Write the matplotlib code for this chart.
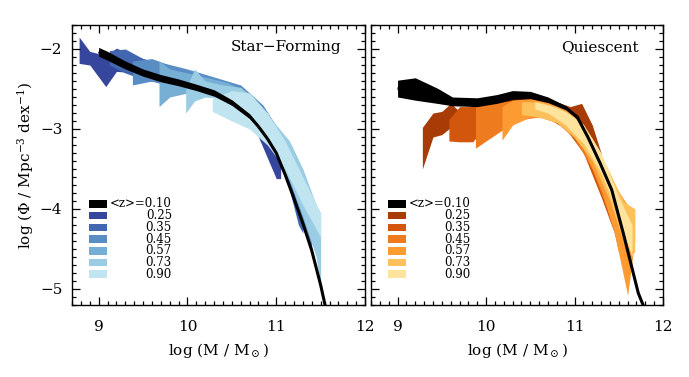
"""Stellar mass functions of star-forming and quiescent galaxies."""

import matplotlib

matplotlib.use("Agg")

import matplotlib.pyplot as plt
from matplotlib.patches import Rectangle
from matplotlib.ticker import MultipleLocator

plt.rcParams["font.family"] = ["DejaVu Serif"]
plt.rcParams["mathtext.fontset"] = "dejavuserif"

redshifts = ["0.10", "0.25", "0.35", "0.45", "0.57", "0.73", "0.90"]
sf_colors = ["#000000", "#35469c", "#4266b0", "#5b8dc5", "#77aed4", "#9acde3", "#c0e4f0"]
q_colors = ["#000000", "#a83c06", "#d2560b", "#ee7b1d", "#fd9b33", "#fdc15c", "#fde39c"]

# star-forming: local (z=0.10) band
sf_x0 = [9.0, 9.1, 9.3, 9.5, 9.7, 9.9, 10.1, 10.3, 10.5, 10.7, 10.8, 10.9, 11.0, 11.1, 11.2, 11.3, 11.4, 11.5, 11.56]
sf_hi0 = [-1.98, -2.03, -2.15, -2.25, -2.32, -2.375, -2.44, -2.51, -2.635, -2.81, -2.95, -3.10, -3.28, -3.55, -3.85, -4.16, -4.50, -4.93, -5.23]
sf_lo0 = [-2.09, -2.14, -2.25, -2.34, -2.41, -2.46, -2.52, -2.59, -2.705, -2.87, -2.99, -3.14, -3.32, -3.59, -3.89, -4.20, -4.54, -4.97, -5.27]

# star-forming: higher-z bands (x, upper, lower)
sf_x = [
    [8.78, 8.9, 9.08, 9.2, 9.45, 9.7, 10.0, 10.3, 10.55, 10.8, 11.0, 11.05],
    [9.12, 9.3, 9.5, 9.8, 10.1, 10.4, 10.7, 10.9, 11.1, 11.25, 11.3],
    [9.38, 9.6, 9.75, 10.0, 10.3, 10.6, 10.85, 11.05, 11.2, 11.3, 11.4],
    [9.68, 9.8, 10.0, 10.2, 10.45, 10.7, 10.9, 11.1, 11.3, 11.45],
    [9.98, 10.08, 10.2, 10.4, 10.6, 10.8, 11.0, 11.15, 11.3, 11.45, 11.5],
    [10.28, 10.5, 10.7, 10.9, 11.1, 11.3, 11.5],
]
sf_hi = [
    [-1.85, -2.03, -2.08, -1.99, -2.1, -2.2, -2.3, -2.38, -2.52, -2.85, -3.25, -3.35],
    [-2.02, -2.0, -2.12, -2.2, -2.3, -2.4, -2.55, -2.8, -3.3, -3.8, -4.0],
    [-2.15, -2.12, -2.18, -2.25, -2.35, -2.45, -2.7, -3.05, -3.5, -3.9, -4.1],
    [-2.15, -2.25, -2.3, -2.35, -2.42, -2.55, -2.8, -3.15, -3.6, -4.0],
    [-2.5, -2.25, -2.4, -2.45, -2.48, -2.68, -2.95, -3.15, -3.5, -3.95, -4.05],
    [-2.62, -2.52, -2.55, -2.8, -3.15, -3.6, -4.05],
]
sf_lo = [
    [-2.18, -2.2, -2.47, -2.28, -2.3, -2.35, -2.45, -2.55, -2.72, -3.1, -3.62, -3.62],
    [-2.2, -2.3, -2.38, -2.45, -2.5, -2.58, -2.75, -3.05, -3.55, -4.2, -4.3],
    [-2.45, -2.4, -2.45, -2.5, -2.55, -2.68, -2.95, -3.4, -3.8, -4.25, -4.5],
    [-2.72, -2.6, -2.55, -2.55, -2.62, -2.75, -3.05, -3.45, -3.95, -4.4],
    [-2.8, -2.65, -2.6, -2.62, -2.75, -2.95, -3.3, -3.65, -4.1, -4.6, -5.0],
    [-2.78, -2.9, -3.0, -3.2, -3.5, -3.95, -4.35],
]

# quiescent: local (z=0.10) band
q_x0 = [9.0, 9.2, 9.45, 9.62, 9.9, 10.12, 10.3, 10.5, 10.7, 10.9, 11.03, 11.15, 11.29, 11.42, 11.55, 11.72, 11.8]
q_hi0 = [-2.39, -2.36, -2.49, -2.6, -2.61, -2.57, -2.52, -2.53, -2.60, -2.71, -2.83, -3.08, -3.41, -3.74, -4.28, -5.03, -5.25]
q_lo0 = [-2.60, -2.64, -2.68, -2.71, -2.72, -2.68, -2.63, -2.62, -2.67, -2.76, -2.87, -3.12, -3.45, -3.78, -4.32, -5.07, -5.29]

# quiescent: higher-z bands (x, upper, lower)
q_x = [
    [9.28, 9.4, 9.5, 9.6, 9.7, 9.9, 10.2, 10.5, 10.8, 10.95, 11.08, 11.2, 11.3],
    [9.58, 9.7, 9.85, 10.0, 10.3, 10.6, 10.9, 11.1, 11.3, 11.45, 11.5],
    [9.88, 10.0, 10.2, 10.4, 10.6, 10.8, 11.0, 11.2, 11.4, 11.5, 11.55],
    [10.18, 10.3, 10.5, 10.7, 10.9, 11.1, 11.3, 11.45, 11.6, 11.68],
    [10.4, 10.6, 10.8, 11.0, 11.2, 11.4, 11.55, 11.68],
    [10.55, 10.7, 10.9, 11.1, 11.3, 11.5, 11.65],
]
q_hi = [
    [-2.98, -2.8, -2.78, -2.68, -2.78, -2.68, -2.62, -2.6, -2.66, -2.72, -2.68, -2.95, -3.3],
    [-2.88, -2.72, -2.72, -2.7, -2.65, -2.62, -2.74, -2.97, -3.45, -3.8, -3.95],
    [-2.72, -2.68, -2.66, -2.63, -2.65, -2.72, -2.92, -3.25, -3.8, -4.1, -4.3],
    [-2.72, -2.64, -2.62, -2.66, -2.74, -2.97, -3.35, -3.7, -3.95, -4.0],
    [-2.66, -2.66, -2.72, -2.86, -3.12, -3.55, -3.9, -4.0],
    [-2.66, -2.7, -2.78, -2.94, -3.3, -3.85, -4.2],
]
q_lo = [
    [-3.5, -3.1, -3.07, -2.98, -2.95, -2.85, -2.8, -2.8, -2.85, -3.0, -3.1, -3.25, -3.5],
    [-3.15, -3.16, -3.16, -2.95, -2.85, -2.8, -3.0, -3.3, -3.85, -4.3, -4.55],
    [-3.24, -3.15, -3.0, -2.88, -2.85, -2.92, -3.12, -3.5, -4.1, -4.45, -4.6],
    [-3.14, -2.95, -2.85, -2.85, -2.98, -3.25, -3.75, -4.3, -5.08, -4.4],
    [-2.82, -2.85, -2.92, -3.1, -3.4, -3.9, -4.4, -4.55],
    [-2.75, -2.8, -2.95, -3.18, -3.55, -4.1, -4.6],
]


def draw_panel(ax, x0, hi0, lo0, xs, his, los, colors, title):
    for x, hi, lo, c in zip(xs, his, los, colors[1:]):
        ax.fill_between(x, lo, hi, color=c, linewidth=0)
    ax.fill_between(x0, lo0, hi0, color="black", linewidth=0)
    mid = [(a + b) / 2 for a, b in zip(hi0, lo0)]
    ax.plot(x0, mid, color="black", lw=2.2, solid_capstyle="butt")

    ax.set_xlim(8.7, 12.0)
    ax.set_ylim(-5.2, -1.7)
    ax.xaxis.set_major_locator(MultipleLocator(1))
    ax.xaxis.set_minor_locator(MultipleLocator(0.1))
    ax.yaxis.set_major_locator(MultipleLocator(1))
    ax.yaxis.set_minor_locator(MultipleLocator(0.1))
    ax.tick_params(which="both", direction="in", top=True, right=True, labelsize=11, width=0.9)
    ax.tick_params(which="major", length=6)
    ax.tick_params(which="minor", length=3)
    ax.tick_params(axis="x", pad=11)
    ax.tick_params(axis="y", pad=7)
    for sp in ax.spines.values():
        sp.set_linewidth(1.0)
    ax.set_xlabel(r"log (M / M$_\odot$)", fontsize=11, labelpad=5)
    ax.text(0.918, 0.92, title, transform=ax.transAxes, ha="right", va="center", fontsize=11)

    # legend
    row_h = 0.0418
    for i, (z, c) in enumerate(zip(redshifts, colors)):
        yc = 0.361 - i * row_h
        ax.add_patch(Rectangle((0.058, yc - 0.0135), 0.061, 0.027, transform=ax.transAxes,
                               facecolor=c, edgecolor="none"))
        label = "<z>=" + z if i == 0 else z
        ax.text(0.341, yc, label, transform=ax.transAxes, ha="right", va="center", fontsize=8.5)


fig = plt.figure(figsize=(6.89, 3.77), dpi=100)
ax1 = fig.add_axes([0.1045, 0.191, 0.4253, 0.7427])
ax2 = fig.add_axes([0.5385, 0.191, 0.4238, 0.7427])

draw_panel(ax1, sf_x0, sf_hi0, sf_lo0, sf_x, sf_hi, sf_lo, sf_colors, "Star\u2212Forming")
draw_panel(ax2, q_x0, q_hi0, q_lo0, q_x, q_hi, q_lo, q_colors, "Quiescent")
ax2.set_yticklabels([])
ax1.set_ylabel(r"log ($\Phi$ / Mpc$^{-3}$ dex$^{-1}$)", fontsize=11, labelpad=3)

fig.savefig("out.png", dpi=100)
